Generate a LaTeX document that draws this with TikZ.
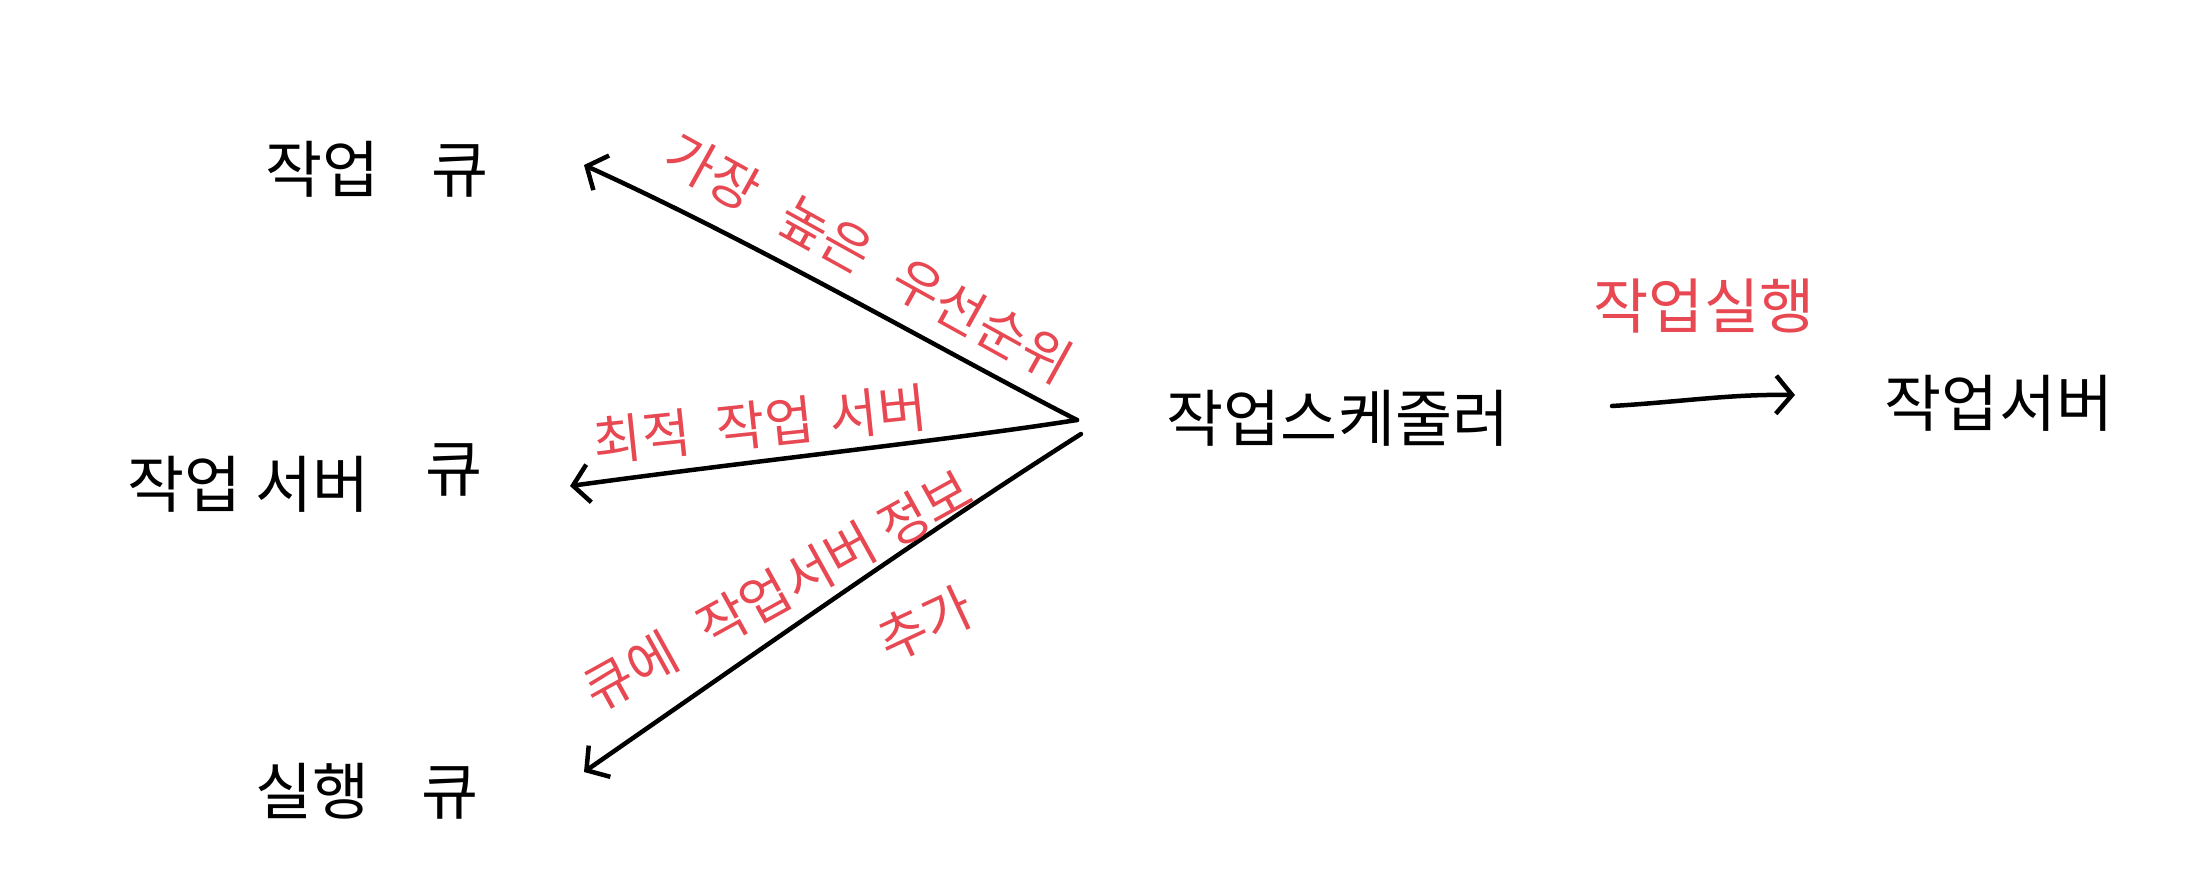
\documentclass[tikz,border=0pt]{standalone}
\usepackage{fontspec}
\newfontfamily\kr{Noto Sans CJK KR}
\usetikzlibrary{arrows.meta}
\definecolor{penred}{RGB}{232,72,82}
\tikzset{
  x=1pt, y=-1pt,
  blacktext/.style={font=\kr\fontsize{62}{70}\selectfont, inner sep=0pt, text=black},
  redtext/.style={font=\kr\fontsize{53}{60}\selectfont, inner sep=0pt, text=penred},
  pen/.style={draw=black, line width=4.5pt, line cap=round, line join=round,
    -{Straight Barb[length=16pt,width=38pt,line width=4.5pt]}},
}
\begin{document}
\begin{tikzpicture}
\useasboundingbox (0,0) rectangle (2208,886);
\fill[white] (0,0) rectangle (2208,886);

\node[blacktext] (wq) at (377,169) {작업\hspace{0.85em}큐};
\node[blacktext] (sq) at (305,478) {작업 서버\hspace{0.9em}\raisebox{0.25em}{큐}};
\node[blacktext] (rq) at (367,791) {실행\hspace{0.85em}큐};
\node[blacktext] (sched) at (1338,418) {작업스케줄러};
\node[blacktext] (server) at (1999,403) {작업서버};

\coordinate (hub) at (1077,420);
\coordinate (hubb) at (1081,434);
\coordinate (wqin) at (584,165);
\coordinate (sqin) at (570,486);
\coordinate (rqin) at (584,772);
\coordinate (runs) at (1612,406);
\coordinate (rune) at (1795,395);

\draw[pen] (hub) .. controls (950,355) and (760,245) .. (wqin);
\draw[pen] (hub) .. controls (950,440) and (760,460) .. (sqin);
\draw[pen] (hubb) .. controls (930,530) and (760,650) .. (rqin);
\draw[pen] (runs) .. controls (1680,402) and (1730,394) .. (rune);

\node[redtext, rotate=-29] (lab1) at (869,258) {가장\hspace{0.6em}높은\hspace{0.6em}우선순위};
\node[redtext, rotate=6] (lab2) at (760,424) {최적\hspace{0.5em}작업\hspace{0.3em}서버};
\node[redtext, rotate=29] (lab3) at (778,590) {큐에\hspace{0.6em}작업서버 정보};
\node[redtext, rotate=25] (lab4) at (925,624) {추가};
\node[redtext, font=\kr\fontsize{60}{66}\selectfont] (lab5) at (1704,306) {작업실행};
\end{tikzpicture}
\end{document}
